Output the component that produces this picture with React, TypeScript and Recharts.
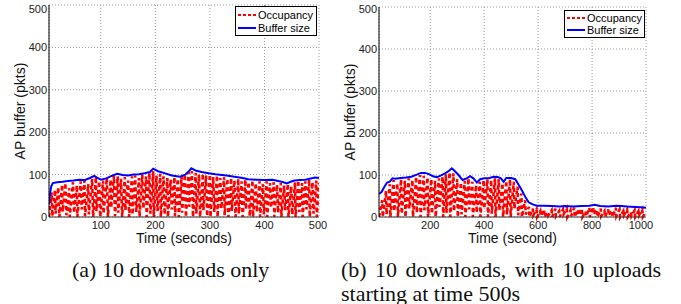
import React from 'react';
import { LineChart, Line, XAxis, YAxis, CartesianGrid, Label } from 'recharts';

// (a) 10 downloads only: [time s, packets]
const occupancyA: [number, number][] = [
  [5, 0], [10, 58], [11, 2], [16, 64], [17, 8], [22, 70], [24, 0], [29, 76], [30, 12], [35, 80],
  [37, 4], [42, 68], [43, 0], [49, 82], [51, 10], [56, 74], [57, 0], [63, 84], [65, 18], [70, 86],
  [71, 2], [77, 78], [78, 6], [84, 90], [86, 0], [91, 94], [92, 14], [97, 84], [99, 0], [104, 86],
  [105, 8], [111, 92], [113, 0], [118, 88], [119, 22], [124, 98], [126, 2], [131, 96], [132, 10], [137, 90],
  [139, 0], [144, 94], [145, 16], [150, 86], [152, 0], [157, 96], [158, 6], [163, 98], [165, 12], [170, 92],
  [171, 0], [176, 100], [178, 20], [183, 96], [184, 0], [189, 104], [191, 8], [196, 108], [197, 0], [202, 98],
  [204, 14], [209, 102], [210, 0], [215, 96], [217, 6], [222, 92], [223, 0], [228, 88], [230, 18], [235, 94],
  [236, 2], [241, 90], [243, 0], [248, 96], [249, 10], [254, 100], [256, 0], [261, 106], [262, 24], [267, 108],
  [269, 0], [274, 104], [275, 8], [280, 100], [282, 0], [287, 102], [288, 16], [293, 98], [295, 2], [300, 100],
  [301, 0], [306, 94], [308, 12], [313, 98], [314, 0], [319, 92], [321, 20], [326, 94], [327, 4], [332, 90],
  [334, 0], [339, 92], [340, 14], [345, 86], [347, 0], [352, 90], [353, 8], [358, 84], [360, 0], [365, 88],
  [366, 18], [371, 82], [373, 2], [378, 86], [379, 0], [384, 80], [386, 12], [391, 84], [392, 0], [397, 78],
  [399, 6], [404, 84], [405, 0], [410, 80], [412, 22], [417, 82], [418, 0], [423, 76], [425, 10], [430, 80],
  [431, 0], [436, 74], [438, 16], [443, 78], [444, 0], [449, 72], [451, 6], [456, 82], [457, 0], [462, 86],
  [464, 12], [469, 80], [470, 0], [475, 84], [477, 18], [482, 88], [483, 0], [488, 82], [490, 8], [495, 86],
  [496, 0], [500, 80],
];

const bufferA: [number, number][] = [
  [5, 30], [7, 55], [9, 72], [12, 80], [20, 82], [30, 83], [40, 85], [50, 86], [60, 88], [70, 87],
  [80, 92], [88, 97], [93, 93], [100, 88], [110, 91], [120, 97], [130, 102], [140, 99], [150, 98], [160, 100],
  [170, 101], [180, 103], [190, 106], [196, 114], [205, 108], [215, 104], [230, 98], [245, 95], [255, 100], [260, 106],
  [266, 115], [275, 109], [285, 106], [295, 104], [310, 101], [330, 98], [345, 95], [360, 92], [370, 89], [385, 88],
  [400, 87], [415, 88], [425, 85], [435, 82], [441, 79], [448, 83], [455, 86], [465, 87], [475, 88], [485, 91],
  [493, 93], [500, 92],
];

// (b) 10 downloads, 10 uploads from 500 s
const occupancyB: [number, number][] = [
  [10, 0], [22, 40], [24, 0], [36, 62], [38, 6], [50, 78], [52, 0], [64, 88], [66, 14], [78, 80],
  [80, 0], [92, 90], [94, 8], [106, 86], [108, 0], [120, 92], [122, 20], [134, 88], [136, 0], [148, 96],
  [150, 10], [162, 100], [164, 0], [176, 98], [178, 16], [190, 94], [192, 0], [204, 90], [206, 8], [218, 86],
  [220, 0], [232, 92], [234, 24], [246, 96], [248, 0], [258, 102], [260, 10], [272, 106], [274, 0], [286, 104],
  [288, 14], [300, 90], [302, 0], [314, 82], [316, 6], [328, 86], [330, 0], [342, 92], [344, 18], [356, 84],
  [358, 0], [370, 76], [372, 10], [384, 84], [386, 0], [398, 88], [400, 20], [412, 90], [414, 0], [426, 88],
  [428, 8], [440, 92], [442, 0], [454, 90], [456, 16], [468, 80], [470, 0], [482, 86], [484, 6], [496, 90],
  [498, 0], [510, 84], [512, 20], [524, 72], [526, 4], [538, 56], [540, 0], [552, 40], [554, 6], [566, 24],
  [568, 0], [580, 20], [582, 4], [594, 18], [596, 0], [608, 14], [610, 2], [622, 18], [624, 0], [636, 12],
  [638, 4], [650, 16], [652, 0], [664, 20], [666, 2], [678, 14], [680, 0], [692, 18], [694, 6], [706, 20],
  [708, 0], [720, 16], [722, 2], [734, 22], [736, 0], [748, 18], [750, 4], [762, 20], [764, 0], [776, 14],
  [778, 2], [790, 22], [792, 0], [804, 24], [806, 6], [818, 18], [820, 0], [832, 20], [834, 2], [846, 14],
  [848, 0], [860, 18], [862, 4], [874, 16], [876, 0], [888, 22], [890, 2], [902, 18], [904, 0], [916, 14],
  [918, 4], [930, 18], [932, 0], [944, 12], [946, 2], [958, 16], [960, 0], [972, 14], [974, 4], [986, 18],
  [988, 0], [1000, 12],
];

const bufferB: [number, number][] = [
  [10, 55], [20, 60], [30, 72], [40, 82], [50, 84], [60, 92], [70, 91], [90, 93], [110, 94], [130, 96],
  [150, 101], [165, 105], [180, 105], [195, 102], [210, 97], [225, 95], [240, 99], [255, 104], [270, 110], [280, 116],
  [290, 110], [305, 100], [320, 88], [335, 92], [348, 97], [360, 92], [373, 82], [385, 90], [400, 92], [420, 93],
  [435, 96], [450, 95], [462, 92], [472, 84], [482, 93], [500, 93], [515, 90], [525, 80], [540, 63], [555, 45],
  [565, 35], [580, 30], [595, 27], [620, 27], [650, 26], [680, 25], [700, 26], [730, 25], [760, 26], [790, 27],
  [810, 29], [830, 26], [860, 25], [890, 27], [910, 26], [930, 25], [960, 24], [980, 23], [1000, 22],
];

const yTicks = [0, 100, 200, 300, 400, 500];
const xTicksA = [100, 200, 300, 400, 500];
const xTicksB = [200, 400, 600, 800, 1000];

const SANS = '"Liberation Sans", Arial, sans-serif';
const SERIF = '"Liberation Serif", "Times New Roman", serif';

const toRows = (pts: [number, number][]) => pts.map(([t, v]) => ({ t, v }));

const XTick = ({ x, y, payload }: any) => (
  <text x={x} y={y + 8} textAnchor="middle" dominantBaseline="central" fontSize={11} fontFamily={SANS} fill="#222">
    {payload.value}
  </text>
);

const YTick = ({ x, y, payload }: any) => (
  <text x={x - 2} y={y} textAnchor="end" dominantBaseline="central" fontSize={11} fontFamily={SANS} fill="#222">
    {payload.value}
  </text>
);

const yTitle = ({ viewBox }: any) => {
  const cx = viewBox.x + viewBox.width - 29;
  const cy = viewBox.y + viewBox.height / 2;
  return (
    <text x={cx} y={cy} transform={`rotate(-90 ${cx} ${cy})`} textAnchor="middle" dominantBaseline="central"
      fontSize={14} fontFamily={SANS} fill="#111">
      AP buffer (pkts)
    </text>
  );
};

const xTitle = (text: string) => ({ viewBox }: any) => (
  <text x={viewBox.x + viewBox.width / 2} y={viewBox.y + 21} textAnchor="middle" dominantBaseline="central"
    fontSize={14} fontFamily={SANS} fill="#111">
    {text}
  </text>
);

function LegendBox({ left, top, width, height }: { left: number; top: number; width: number; height: number }) {
  const row = (label: string, color: string, dash?: string) => (
    <div style={{ display: 'flex', alignItems: 'center', height: (height - 4) / 2 }}>
      <svg width={20} height={6} style={{ marginRight: 1 }}>
        <line x1={1} y1={3} x2={19} y2={3} stroke={color} strokeWidth={2} strokeDasharray={dash} />
      </svg>
      <span>{label}</span>
    </div>
  );
  return (
    <div style={{
      position: 'absolute', left, top, width, height, boxSizing: 'border-box', border: '1px solid #000',
      background: '#fff', fontFamily: SANS, fontSize: 11, lineHeight: '12px', padding: '1px 0 1px 1px', color: '#000',
    }}>
      {row('Occupancy', '#ff0000', '3 2')}
      {row('Buffer size', '#0000ff')}
    </div>
  );
}

function Panel(props: {
  occ: [number, number][]; buf: [number, number][]; domain: [number, number]; xTicks: number[];
  xLabel: string; width: number; top: number;
}) {
  const { occ, buf, domain, xTicks, xLabel, width, top } = props;
  return (
    <LineChart width={width} height={250} margin={{ top, right: 11, bottom: 0, left: 0 }}>
      <CartesianGrid stroke="#9a9a9a" strokeDasharray="1 2" />
      <XAxis type="number" dataKey="t" domain={domain} ticks={xTicks} allowDataOverflow
        height={33} tickSize={0} tickMargin={0} tick={<XTick />} axisLine={{ stroke: '#333' }} tickLine={false}>
        <Label content={xTitle(xLabel)} />
      </XAxis>
      <YAxis type="number" domain={[0, 500]} ticks={yTicks} width={49} tickSize={0} tickMargin={0}
        tick={<YTick />} axisLine={{ stroke: '#000' }} tickLine={false}>
        <Label content={yTitle} />
      </YAxis>
      <Line data={toRows(occ)} dataKey="v" type="linear" stroke="#ff0000" strokeWidth={2.6}
        strokeDasharray="4 3" dot={false} isAnimationActive={false} />
      <Line data={toRows(buf)} dataKey="v" type="linear" stroke="#0000ff" strokeWidth={2}
        dot={false} isAnimationActive={false} />
    </LineChart>
  );
}

export default function App() {
  return (
    <div style={{ position: 'absolute', left: 0, top: 0, width: 681, height: 304, background: '#fff', overflow: 'hidden' }}>
      <div style={{ position: 'absolute', left: 0, top: 0 }}>
        <Panel occ={occupancyA} buf={bufferA} domain={[5, 500]} xTicks={xTicksA} xLabel="Time (seconds)" width={330} top={5} />
      </div>
      <div style={{ position: 'absolute', left: 330, top: 0 }}>
        <Panel occ={occupancyB} buf={bufferB} domain={[10, 1000]} xTicks={xTicksB} xLabel="Time (second)" width={327} top={7} />
      </div>
      <LegendBox left={235} top={6} width={82} height={30} />
      <LegendBox left={564} top={10} width={81} height={28} />
      <div style={{
        position: 'absolute', left: 72, top: 257, fontFamily: SERIF, fontSize: 22, lineHeight: '25px', color: '#111',
        whiteSpace: 'nowrap',
      }}>
        (a) 10 downloads only
      </div>
      <div style={{
        position: 'absolute', left: 341, top: 258, width: 320, fontFamily: SERIF, fontSize: 22, lineHeight: '24px',
        color: '#111', textAlign: 'justify',
      }}>
        (b) 10 downloads, with 10 uploads starting at time 500s
      </div>
    </div>
  );
}
